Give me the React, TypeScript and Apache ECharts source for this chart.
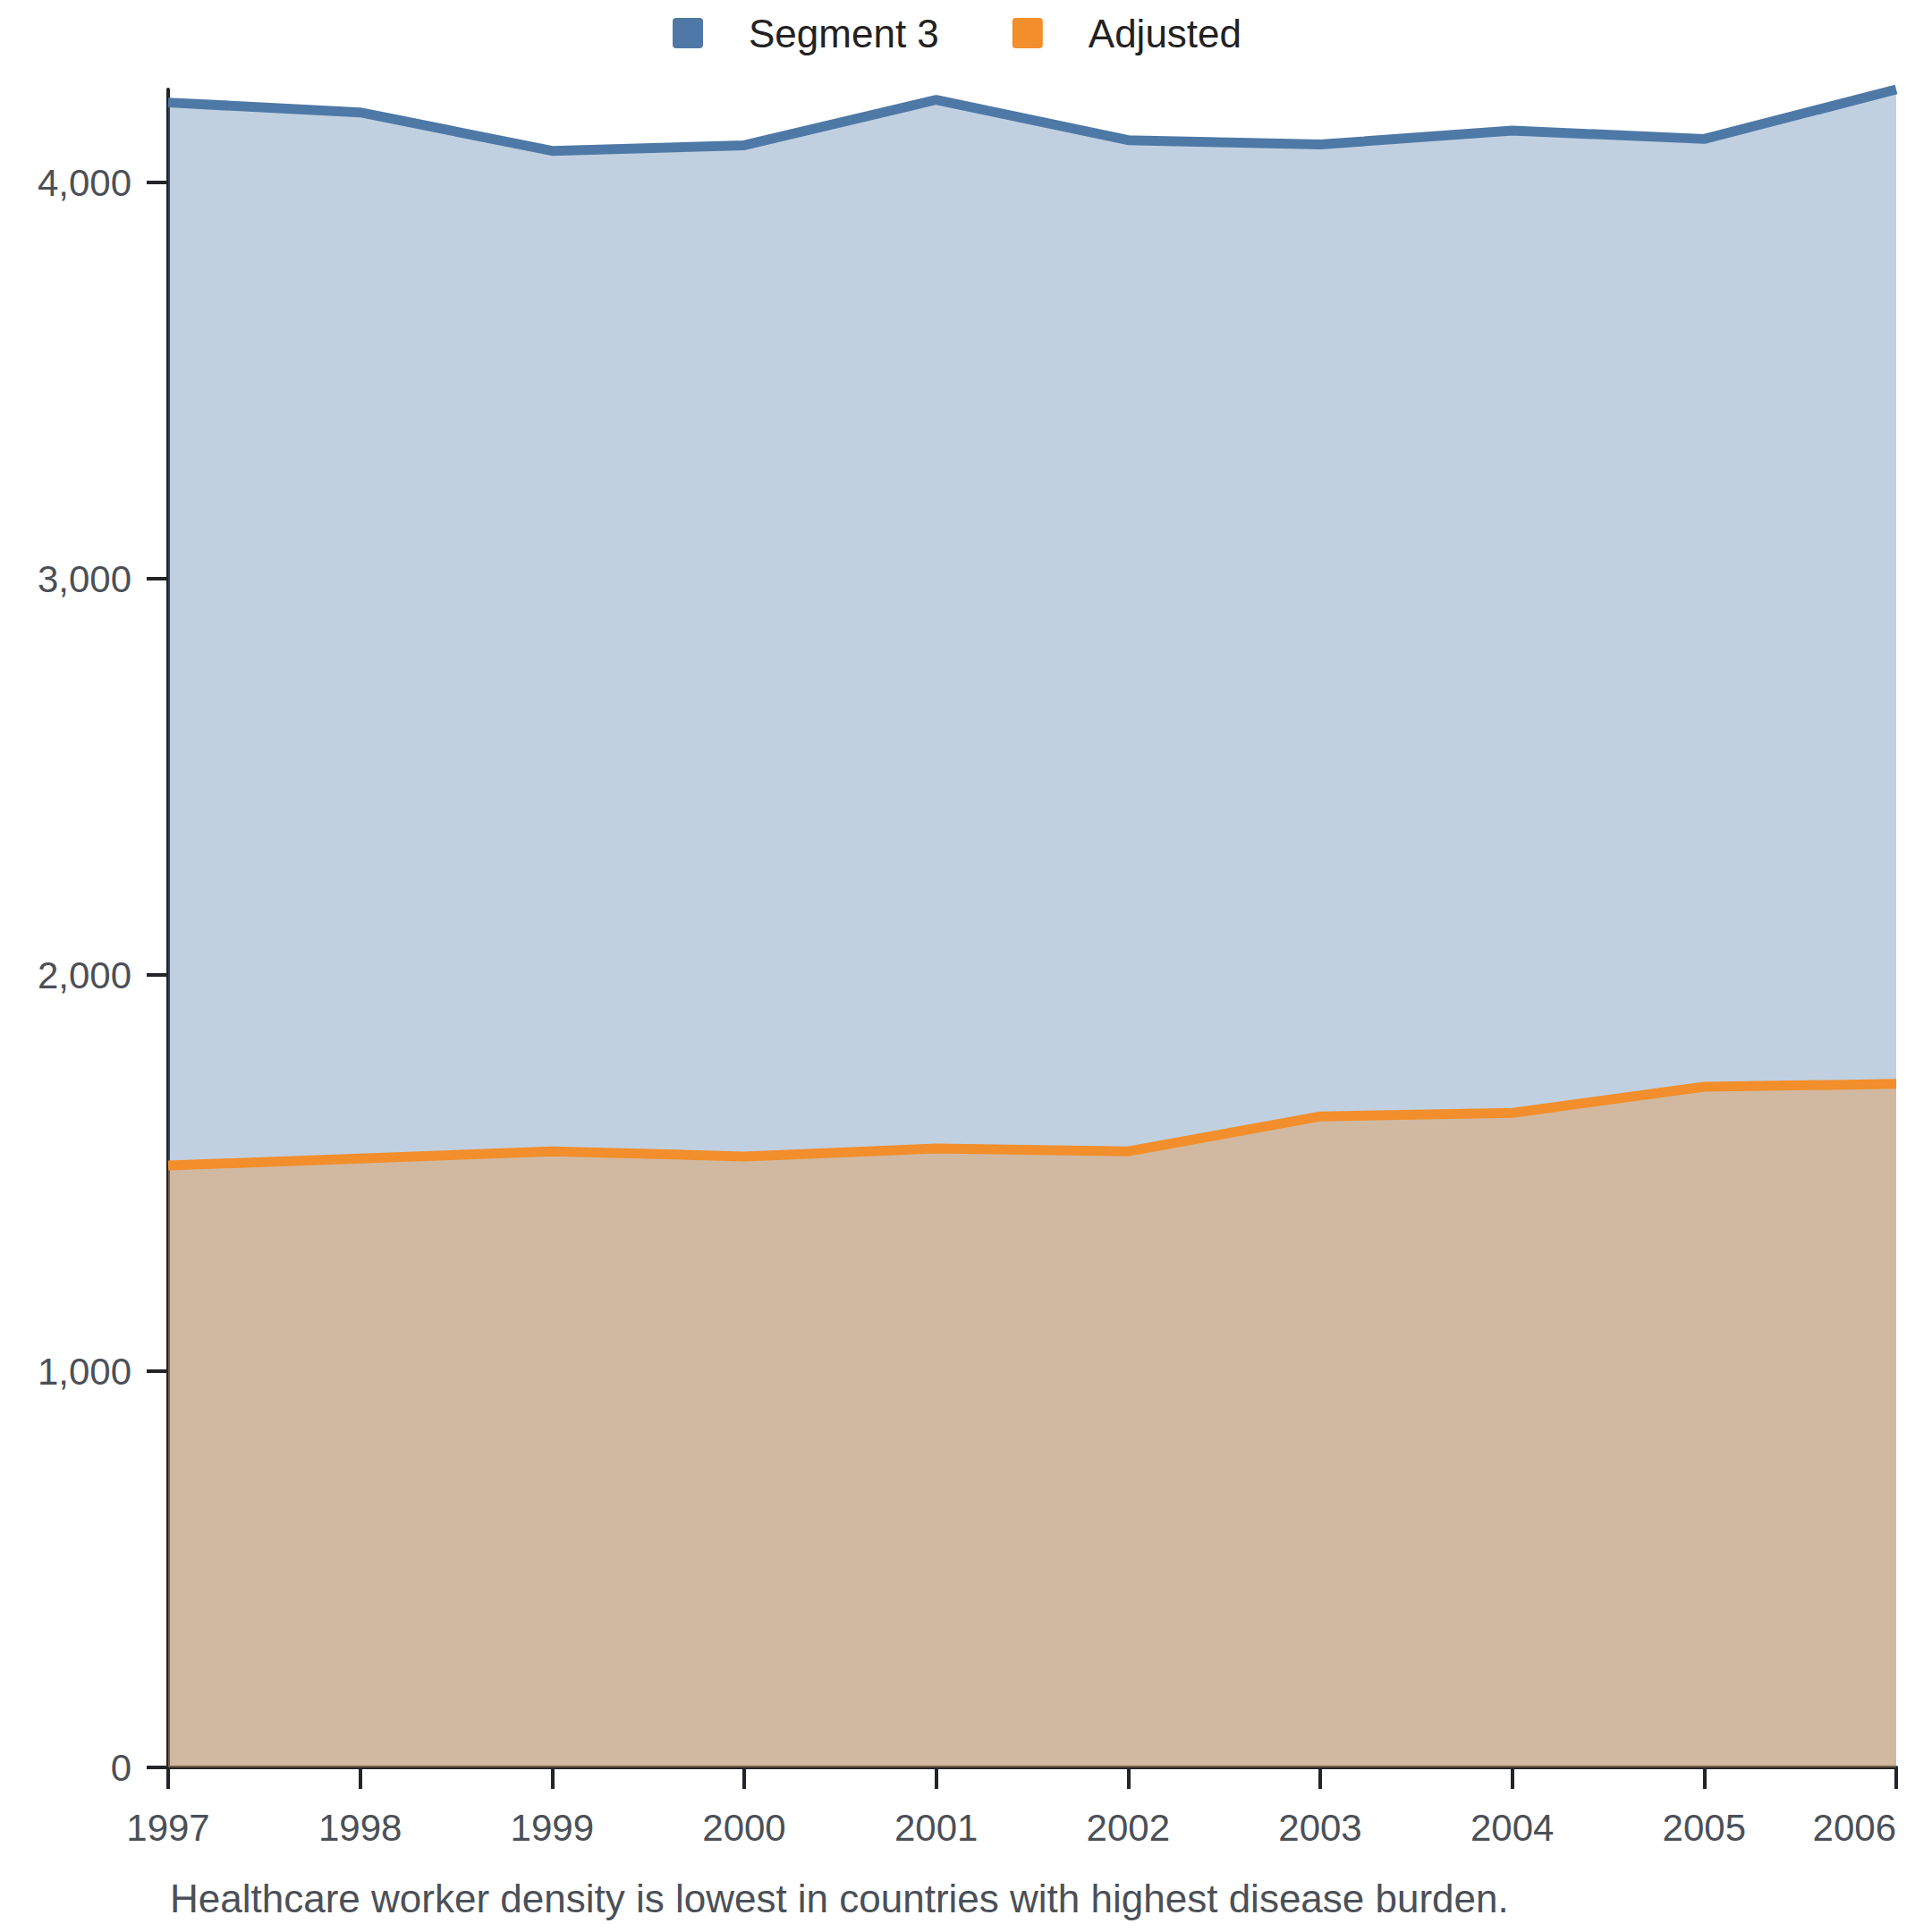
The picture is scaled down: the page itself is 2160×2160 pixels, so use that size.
import React, { useEffect, useRef } from "react";
import * as echarts from "echarts";

const years = ["1997", "1998", "1999", "2000", "2001", "2002", "2003", "2004", "2005", "2006"];
const segment3 = [4202, 4177, 4080, 4094, 4209, 4107, 4096, 4131, 4110, 4235];
const adjusted = [1519, 1537, 1555, 1542, 1562, 1555, 1643, 1652, 1718, 1725];
const seriesNames = ["Segment 3", "Adjusted"];
const caption = "Healthcare worker density is lowest in countries with highest disease burden.";

const BLUE = "#4e79a7";
const ORANGE = "#f28e2b";
const FONT = "'Liberation Sans', Arial, Helvetica, sans-serif";
const LABEL = "#4b5058";
const AXIS = "#222428";

export default function App() {
  const ref = useRef<HTMLDivElement>(null);
  useEffect(() => {
    if (!ref.current) return;
    const chart = echarts.init(ref.current, null, { renderer: "svg" });
    const iconPath = "path://M4,0 H30 Q34,0 34,4 V30 Q34,34 30,34 H4 Q0,34 0,30 V4 Q0,0 4,0 Z";
    chart.setOption({
      animation: false,
      textStyle: { fontFamily: FONT },
      legend: {
        left: 752,
        top: 15,
        padding: 0,
        itemWidth: 34,
        itemHeight: 34,
        itemGap: 82,
        icon: iconPath,
        data: seriesNames,
        textStyle: { fontSize: 44, color: "#222222", fontFamily: FONT, padding: [0, 0, 0, 46] },
      },
      grid: { left: 188, right: 40, top: 100, bottom: 184, containLabel: false, outerBoundsMode: "none" },
      xAxis: {
        type: "category",
        data: years,
        boundaryGap: false,
        axisLine: { show: true, lineStyle: { color: AXIS, width: 4 } },
        axisTick: { show: true, length: 24, lineStyle: { color: AXIS, width: 4 } },
        axisLabel: {
          fontSize: 42,
          color: LABEL,
          fontFamily: FONT,
          margin: 46,
          alignMaxLabel: "right",
          interval: 0,
        },
        splitLine: { show: false },
      },
      yAxis: {
        type: "value",
        min: 0,
        max: "dataMax",
        interval: 1000,
        axisLine: { show: true, lineStyle: { color: AXIS, width: 4 } },
        axisTick: { show: true, length: 24, lineStyle: { color: AXIS, width: 4 } },
        axisLabel: {
          fontSize: 42,
          color: LABEL,
          fontFamily: FONT,
          margin: 41,
          showMaxLabel: false,
          formatter: (v: number) => v.toLocaleString("en-US"),
        },
        splitLine: { show: false },
      },
      series: [
        {
          name: seriesNames[0],
          type: "line",
          data: segment3,
          showSymbol: false,
          symbol: "none",
          color: BLUE,
          lineStyle: { color: BLUE, width: 11 },
          areaStyle: { color: BLUE, opacity: 0.35 },
        },
        {
          name: seriesNames[1],
          type: "line",
          data: adjusted,
          showSymbol: false,
          symbol: "none",
          color: ORANGE,
          lineStyle: { color: ORANGE, width: 11 },
          areaStyle: { color: ORANGE, opacity: 0.35 },
        },
      ],
      graphic: [
        {
          type: "text",
          left: 190,
          top: 2100,
          style: { text: caption, fontSize: 44, fill: LABEL, fontFamily: FONT },
        },
      ],
    });
    return () => chart.dispose();
  }, []);
  return (
    <div
      ref={ref}
      style={{ position: "absolute", left: 0, top: 0, width: 2160, height: 2160, background: "#fff" }}
    />
  );
}
